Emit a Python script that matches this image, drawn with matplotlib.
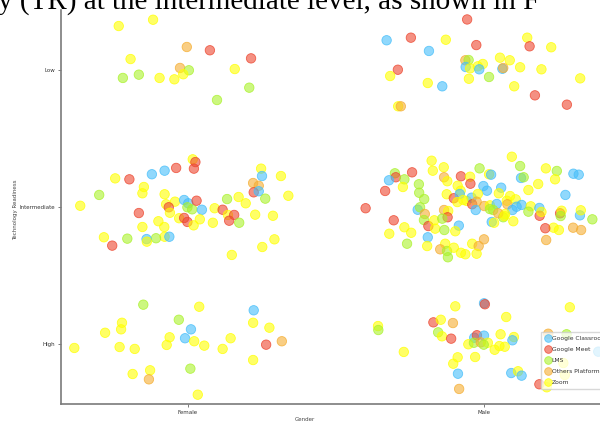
import matplotlib
matplotlib.use("Agg")
import matplotlib.pyplot as plt
from matplotlib.colors import to_rgba
from matplotlib.lines import Line2D

platforms = ["Google Classroom", "Google Meet", "LMS", "Others Platform", "Zoom"]
platform_codes = "CMLOZ"
platform_colors = ["#46befa", "#ed462f", "#aaf22b", "#f5ae32", "#ffff00"]
genders = ["Female", "Male"]
readiness = ["High", "Intermediate", "Low"]

# each respondent: platform code plus its jitter around the category centre
female_low_platform = "ZZOMMZOLZZLLZZLL"
female_low_dx = [-0.234, -0.118, -0.004, 0.074, 0.213, -0.194, -0.027, 0.003,
                 -0.016, 0.158, -0.220, -0.166, -0.096, -0.046, 0.207, 0.098]
female_low_dy = [0.321, 0.367, 0.168, 0.144, 0.085, 0.080, 0.015, -0.002,
                 -0.031, 0.007, -0.058, -0.034, -0.058, -0.068, -0.129, -0.219]

male_low_platform = "CMZCMMZMZMZZCOLCZZZCLZZZCOZZZMMZZO"
male_low_dx = [-0.329, -0.247, -0.129, -0.186, -0.026, -0.057, 0.146, 0.154, 0.227, -0.291,
               -0.317, -0.190, -0.141, -0.063, -0.052, -0.062, -0.047, -0.021, -0.004, -0.016,
               0.017, -0.051, 0.054, 0.087, 0.062, 0.065, 0.122, 0.194, 0.102, 0.172,
               0.280, 0.325, -0.290, -0.281]
male_low_dy = [0.217, 0.236, 0.221, 0.139, 0.182, 0.369, 0.236, 0.173, 0.166, 0.002,
               -0.044, -0.095, -0.119, 0.071, 0.073, 0.022, 0.012, 0.027, 0.044, 0.005,
               -0.051, -0.064, 0.090, 0.071, 0.009, 0.015, 0.020, 0.005, -0.119, -0.185,
               -0.253, -0.061, -0.265, -0.265]

female_mid_platform = "ZMMMCCMZZZLZZZZMZCCLLMCMZMMZZZZZZCLCZLZMZZMLZZZMMLZZZCOOMCLZZZZZ"
female_mid_dx = [0.016, 0.025, 0.020, -0.040, -0.079, -0.122, -0.198, -0.246, -0.149, -0.154,
                 -0.300, -0.364, -0.079, -0.074, -0.044, -0.065, -0.061, -0.013, 0.001, -0.002,
                 0.014, 0.029, 0.047, -0.166, -0.030, -0.013, -0.002, 0.019, 0.040, -0.100,
                 -0.080, -0.154, -0.079, -0.063, -0.108, -0.140, -0.139, -0.205, -0.284, -0.256,
                 0.090, 0.084, 0.117, 0.132, 0.171, 0.195, 0.135, 0.156, 0.139, 0.173,
                 0.227, 0.287, 0.247, 0.250, 0.220, 0.239, 0.222, 0.239, 0.261, 0.314,
                 0.339, 0.292, 0.251, 0.148]
female_mid_dy = [0.348, 0.328, 0.280, 0.285, 0.265, 0.239, 0.202, 0.209, 0.146, 0.100,
                 0.088, 0.009, 0.093, 0.020, 0.039, -0.002, -0.042, 0.051, 0.027, -0.002,
                 -0.017, 0.046, -0.020, -0.044, -0.082, -0.080, -0.109, -0.134, -0.090, -0.104,
                 -0.146, -0.146, -0.217, -0.217, -0.228, -0.234, -0.253, -0.231, -0.221, -0.282,
                 -0.009, -0.115, -0.020, 0.058, 0.073, 0.027, -0.058, -0.058, -0.100, -0.115,
                 -0.056, -0.064, 0.280, 0.226, 0.175, 0.155, 0.107, 0.115, 0.061, 0.226,
                 0.082, -0.236, -0.292, -0.350]

male_mid_platform = ("ZZZZLLZLCCMLMCLZMMOZMZMZCCLZZLLLZZMZCCCCZZZCZZCZMO"
                     "COZCZOZCCCZLCMZMZLCZLCLOLMZZOZMLCZLMZZZLCZCZLZZZZO"
                     "OMOZOLLZZZZOZOLLOZZ")
male_mid_dx = [0.094, -0.177, -0.136, -0.173, -0.015, 0.122, 0.209, 0.246, 0.302, 0.320,
               -0.243, -0.301, -0.298, -0.321, -0.269, -0.274, -0.334, -0.400, -0.135, -0.124,
               -0.078, -0.047, -0.046, 0.017, 0.024, 0.125, 0.134, 0.240, 0.183, -0.220,
               -0.219, -0.202, -0.089, -0.126, -0.102, -0.079, -0.082, -0.002, 0.010, 0.058,
               0.050, 0.088, 0.150, 0.275, -0.090, -0.058, -0.042, -0.021, -0.040, -0.025,
               -0.028, 0.001, 0.020, 0.043, 0.077, 0.079, 0.107, 0.096, 0.110, 0.127,
               0.158, 0.150, 0.187, 0.188, 0.194, 0.257, 0.262, 0.259, 0.324, 0.327,
               0.366, -0.224, -0.216, -0.200, -0.203, -0.188, -0.168, -0.165, -0.135, -0.121,
               -0.123, -0.141, -0.085, -0.097, -0.134, -0.305, -0.269, -0.246, -0.320, -0.260,
               -0.190, -0.192, 0.026, 0.034, 0.065, 0.071, 0.099, 0.235, 0.253, 0.301,
               0.328, 0.207, 0.210, -0.131, -0.148, -0.125, -0.122, -0.102, -0.078, -0.063,
               -0.040, -0.018, -0.025, 0.000, 0.020, 0.031, 0.048, 0.069, -0.070]
male_mid_dy = [0.367, 0.338, 0.290, 0.265, 0.282, 0.299, 0.282, 0.263, 0.243, 0.236,
               0.253, 0.246, 0.217, 0.195, 0.202, 0.146, 0.117, -0.009, 0.217, 0.188,
               0.224, 0.221, 0.170, 0.239, 0.236, 0.212, 0.217, 0.202, 0.168, 0.166,
               0.104, 0.058, 0.155, 0.093, 0.064, 0.119, 0.095, 0.153, 0.119, 0.141,
               0.100, 0.080, 0.124, 0.088, 0.036, 0.044, 0.068, 0.095, 0.020, 0.039,
               -0.022, 0.007, 0.012, 0.022, 0.046, 0.020, 0.056, -0.022, 0.002, 0.015,
               0.005, -0.034, -0.007, -0.064, -0.036, -0.046, -0.027, -0.066, -0.061, -0.024,
               -0.090, -0.020, -0.002, -0.051, -0.095, -0.139, -0.097, -0.158, -0.022, -0.029,
               -0.075, -0.085, -0.136, -0.177, -0.168, -0.097, -0.148, -0.188, -0.195, -0.268,
               -0.221, -0.285, -0.109, -0.115, -0.075, -0.051, -0.104, -0.151, -0.168, -0.151,
               -0.168, -0.155, -0.241, -0.268, -0.309, -0.321, -0.367, -0.297, -0.334, -0.345,
               -0.268, -0.285, -0.341, -0.236, -0.015, -0.022, -0.046, -0.066, 0.051]

female_high_platform = "LZCZZZLCCZZZZZZZZMOZZZZZZOLZ"
female_high_dx = [-0.151, 0.038, 0.222, -0.223, -0.226, -0.280, -0.031, 0.010, -0.010, -0.062,
                  -0.072, 0.021, 0.055, 0.117, 0.144, 0.220, 0.275, 0.264, 0.317, 0.220,
                  -0.384, -0.231, -0.180, -0.187, -0.128, -0.132, 0.008, 0.033]
female_high_dy = [0.287, 0.272, 0.246, 0.155, 0.107, 0.082, 0.177, 0.107, 0.042, 0.049,
                  -0.007, 0.020, -0.012, -0.036, 0.042, 0.155, 0.119, -0.005, 0.020, -0.117,
                  -0.029, -0.022, -0.036, -0.219, -0.192, -0.258, -0.180, -0.370]

male_high_platform = "ZCMZZZLMZOLZMCMCZLOZLZZCZZZZZZZCCZCOMZOLCZZ"
male_high_dx = [-0.097, 0.000, 0.003, 0.290, 0.075, -0.358, -0.357, -0.171, -0.146, -0.105,
                -0.155, -0.142, -0.111, -0.033, -0.024, 0.000, -0.053, -0.034, -0.011, 0.013,
                -0.001, 0.056, 0.101, 0.096, 0.052, 0.070, 0.036, -0.271, -0.089, -0.104,
                -0.030, -0.088, 0.092, 0.115, 0.127, -0.084, 0.187, 0.212, 0.217, 0.279,
                0.386, 0.268, 0.273]
male_high_dy = [0.275, 0.297, 0.290, 0.268, 0.197, 0.131, 0.102, 0.158, 0.177, 0.153,
                0.085, 0.056, 0.039, 0.046, 0.064, 0.061, -0.002, 0.009, 0.012, 0.009,
                -0.005, 0.071, 0.051, 0.027, -0.015, -0.020, -0.042, -0.058, -0.097, -0.144,
                -0.095, -0.217, -0.212, -0.199, -0.231, -0.328, -0.294, -0.316, 0.075, 0.071,
                -0.056, -0.139, -0.226]

groups = [
    ("Female", "Low", female_low_platform, female_low_dx, female_low_dy),
    ("Male", "Low", male_low_platform, male_low_dx, male_low_dy),
    ("Female", "Intermediate", female_mid_platform, female_mid_dx, female_mid_dy),
    ("Male", "Intermediate", male_mid_platform, male_mid_dx, male_mid_dy),
    ("Female", "High", female_high_platform, female_high_dx, female_high_dy),
    ("Male", "High", male_high_platform, male_high_dx, male_high_dy),
]

xs, ys, codes = [], [], []
for gender, level, plat, dx, dy in groups:
    gx = genders.index(gender)
    ly = readiness.index(level)
    for c, a, b in zip(plat, dx, dy):
        xs.append(gx + a)
        ys.append(ly + b)
        codes.append(c)

face = [to_rgba(platform_colors[platform_codes.index(c)], 0.6) for c in codes]
edge = [to_rgba(platform_colors[platform_codes.index(c)], 0.8) for c in codes]

W, H = 600, 425
fig = plt.figure(figsize=(6, 4.25), dpi=100)
# plot area runs past the right edge of the image
ax = fig.add_axes([61 / W, 21 / H, 550 / W, 394 / H])
ax.scatter(xs, ys, s=46, c=face, edgecolors=edge, linewidths=0.6, zorder=2)

ax.set_xlim(-0.429, 1.429)
ax.set_ylim(-0.438, 2.438)
ax.set_xticks(range(len(genders)), genders)
ax.set_yticks(range(len(readiness)), readiness)
ax.tick_params(labelsize=4.0, labelcolor="#333333", color="#666666",
               length=2.5, width=0.6, pad=1.5)
for side in ["top", "right"]:
    ax.spines[side].set_visible(False)
for side in ["left", "bottom"]:
    ax.spines[side].set_color("#7a7a7a")
    ax.spines[side].set_linewidth(1.2)

ax.set_xlabel("Gender", fontsize=4.0, color="#444444")
ax.xaxis.set_label_coords((305 - 61) / 550, -(417 - 404) / 394)
ax.set_ylabel("Technology Readiness", fontsize=4.0, color="#444444")
ax.yaxis.set_label_coords(-(61 - 18) / 550, (404 - 210) / 394)

handles = [Line2D([], [], ls="none", marker="o", markersize=5.5,
                  markerfacecolor=to_rgba(col, 0.6), markeredgecolor=to_rgba(col, 0.8),
                  markeredgewidth=0.6) for col in platform_colors]
leg = ax.legend(handles, platforms, loc="upper left",
                bbox_to_anchor=(541 / W, 1 - 332 / H), bbox_transform=fig.transFigure,
                fontsize=4.3, frameon=True, fancybox=False, framealpha=0.75,
                edgecolor="#cccccc", labelspacing=1.0, handletextpad=0.2,
                handlelength=1.0, borderpad=0.6, borderaxespad=0)
for t in leg.get_texts():
    t.set_color("#333333")

# line of body text sitting above the figure
fig.text(-0.003, 1 - 9 / H, "y (TR) at the intermediate level, as shown in F",
         fontsize=21, family="Liberation Serif", va="baseline", ha="left")

fig.savefig("out.png", dpi=100)
